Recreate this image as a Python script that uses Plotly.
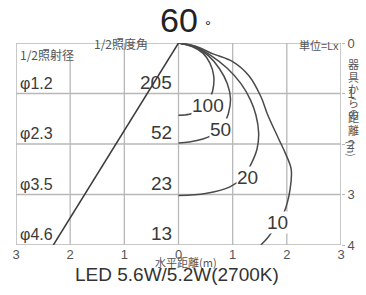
import plotly.graph_objects as go

# ---- data ----
row_depths = [1, 2, 3, 4]
beam_diameters = ["φ1.2", "φ2.3", "φ3.5", "φ4.6"]
center_lux = [205, 52, 23, 13]
half_angle_label = "60"
beam_edge_x = [0, -2.31]
beam_edge_y = [0, 4]

iso_levels = [100, 50, 20, 10]
iso_x = {
    100: [0, 0.25, 0.45, 0.58, 0.65, 0.63, 0.55, 0.4, 0.2, 0.0],
    50: [0, 0.3, 0.55, 0.75, 0.9, 0.96, 0.92, 0.83, 0.7, 0.45, 0.2, 0.0],
    20: [0, 0.3, 0.6, 0.9, 1.15, 1.33, 1.43, 1.48, 1.45, 1.33, 1.2, 0.95, 0.5, 0.0],
    10: [0, 0.3, 0.65, 1.0, 1.3, 1.52, 1.65, 1.85, 1.98, 2.08, 2.06, 1.95, 1.8, 1.65, 1.52],
}
iso_y = {
    100: [0, 0.07, 0.2, 0.4, 0.65, 0.95, 1.15, 1.33, 1.41, 1.43],
    50: [0, 0.08, 0.25, 0.5, 0.8, 1.1, 1.4, 1.62, 1.78, 1.9, 1.96, 1.98],
    20: [0, 0.07, 0.25, 0.5, 0.8, 1.13, 1.43, 1.78, 2.1, 2.42, 2.65, 2.85, 2.98, 3.02],
    10: [0, 0.06, 0.22, 0.37, 0.65, 1.06, 1.43, 1.9, 2.2, 2.5, 2.9, 3.35, 3.62, 3.85, 4.0],
}
iso_label_x = [0.54, 0.78, 1.28, 1.83]
iso_label_y = [1.23, 1.72, 2.67, 3.56]

x_tickvals = [-3, -2, -1, 0, 1, 2, 3]
x_ticktext = ["3", "2", "1", "0", "1", "2", "3"]
y_tickvals = [0, 1, 2, 3, 4]
right_title_chars = ["器", "具", "か", "ら", "の", "距", "離"]

JP = "Noto Sans CJK JP"
LAT = "Liberation Sans, Arial, sans-serif"
GRID = "#b8b8b8"
INK = "#3a3a3a"

fig = go.Figure()

shapes = []
for gx in [-1, 0, 1, 2]:
    shapes.append(dict(type="line", xref="x", yref="y", x0=gx, x1=gx, y0=0, y1=4,
                       line=dict(color=GRID, width=1.3), layer="below"))
shapes.append(dict(type="line", xref="x", yref="y", x0=-2, x1=-2, y0=0.35, y1=4,
                   line=dict(color=GRID, width=1.3), layer="below"))
for gy in [1, 2, 3]:
    shapes.append(dict(type="line", xref="x", yref="y", x0=-3, x1=3, y0=gy, y1=gy,
                       line=dict(color=GRID, width=1.3), layer="below"))
shapes.append(dict(type="rect", xref="x", yref="y", x0=-3, x1=3, y0=0, y1=4,
                   line=dict(color=GRID, width=1.5), layer="below"))

fig.add_trace(go.Scatter(x=beam_edge_x, y=beam_edge_y, mode="lines",
                         line=dict(color=INK, width=1.5), hoverinfo="skip", showlegend=False))

for lvl in iso_levels:
    fig.add_trace(go.Scatter(x=iso_x[lvl], y=iso_y[lvl], mode="lines",
                             line=dict(color="#4a4a4a", width=1.5, shape="spline", smoothing=1.0),
                             hoverinfo="skip", showlegend=False))

annotations = []
for lvl, lx, ly in zip(iso_levels, iso_label_x, iso_label_y):
    annotations.append(dict(x=lx, y=ly, xref="x", yref="y", text=str(lvl), showarrow=False,
                            font=dict(family=LAT, size=19, color=INK), bgcolor="white",
                            borderpad=0))

for d, lab, lux in zip(row_depths, beam_diameters, center_lux):
    annotations.append(dict(x=-2.97, y=d - 0.2, xref="x", yref="y", text=lab, showarrow=False,
                            xanchor="left", font=dict(family=LAT, size=16, color=INK)))
    annotations.append(dict(x=-0.08, y=d - 0.22, xref="x", yref="y", text=str(lux), showarrow=False,
                            xanchor="right", font=dict(family=LAT, size=19, color=INK)))

annotations.append(dict(x=-2.97, y=0.23, xref="x", yref="y", text="1/2照射径", showarrow=False,
                        xanchor="left", font=dict(family=JP, size=12, color="#555")))


def px(xp):
    return (xp - 16) / 325.0


def py(yp):
    return (245 - yp) / 202.0


annotations += [
    dict(x=px(150), y=py(33), xref="paper", yref="paper", text="1/2照度角", showarrow=False,
         xanchor="right", font=dict(family=JP, size=12, color="#555")),
    dict(x=px(158), y=py(41), xref="paper", yref="paper", text=half_angle_label, showarrow=False,
         xanchor="left", yanchor="bottom", font=dict(family=LAT, size=34, color="#222")),
    dict(x=px(203), y=py(15), xref="paper", yref="paper", text="°", showarrow=False,
         xanchor="left", font=dict(family=LAT, size=15, color="#222")),
    dict(x=px(341), y=py(35), xref="paper", yref="paper", text="単位=Lx", showarrow=False,
         xanchor="right", font=dict(family=JP, size=11, color="#555")),
    dict(x=px(186), y=py(272), xref="paper", yref="paper", text="水平距離(m)", showarrow=False,
         font=dict(family=JP, size=11, color="#555")),
    dict(x=px(177), y=py(287), xref="paper", yref="paper", text="LED 5.6W/5.2W(2700K)", showarrow=False,
         font=dict(family=LAT, size=19, color="#333")),
]

for i, ch in enumerate(right_title_chars):
    annotations.append(dict(x=px(361), y=py(54 + i * 12.6), xref="paper", yref="paper", text=ch,
                            showarrow=False, font=dict(family=JP, size=11, color="#555")))
annotations.append(dict(x=px(361), y=py(148), xref="paper", yref="paper", text="(m)", textangle=90,
                        showarrow=False, font=dict(family=JP, size=10, color="#555")))

fig.update_layout(
    width=366, height=295,
    margin=dict(l=16, r=25, t=43, b=50),
    paper_bgcolor="white", plot_bgcolor="white",
    shapes=shapes, annotations=annotations,
    xaxis=dict(range=[-3, 3], tickvals=x_tickvals, ticktext=x_ticktext, showgrid=False,
               zeroline=False, showline=False, ticks="", fixedrange=True,
               tickfont=dict(family=LAT, size=13, color="#555")),
    yaxis=dict(range=[4, 0], tickvals=y_tickvals, side="right", showgrid=False,
               zeroline=False, showline=False, ticks="outside", ticklen=3, tickcolor=GRID,
               fixedrange=True, tickfont=dict(family=LAT, size=13, color="#555")),
)

fig.write_html("out.html", config=dict(displayModeBar=False),
               post_script="document.body.style.margin='0';document.body.style.padding='0';")
